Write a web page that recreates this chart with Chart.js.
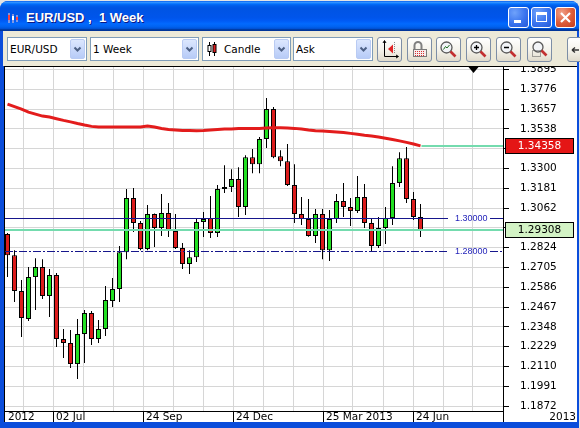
<!DOCTYPE html>
<html>
<head>
<meta charset="utf-8">
<title>EUR/USD, 1 Week</title>
<script src="https://cdn.jsdelivr.net/npm/chart.js@4.4.1/dist/chart.umd.min.js"></script>
<style>
html, body { margin: 0; padding: 0; }
body { width: 580px; height: 428px; overflow: hidden; position: relative; background: #e4e4e4; font-family: "DejaVu Sans", sans-serif; }
#frame { position: absolute; left: 0; top: 1px; width: 579px; height: 427px; background: #0b4ddb; border-radius: 8px 8px 0 0; }
#title { position: absolute; left: 0; top: 1px; width: 579px; height: 30px; border-radius: 8px 8px 0 0;
  background: linear-gradient(to bottom, #0058ee 0%, #3593ff 4%, #288eff 6%, #127dff 8%, #036ffc 10%, #0262ee 14%, #0057e5 20%, #0054e3 24%, #0055eb 56%, #005bf5 66%, #026afe 76%, #0062ef 86%, #0052d6 92%, #0040ab 94%, #003092 100%); }
#title .txt { position: absolute; left: 26px; top: 9px; color: #fff; font: bold 13px "Liberation Sans", sans-serif; text-shadow: 1px 1px 0 #0a1883; white-space: pre; }
#title .ico { position: absolute; left: 7px; top: 11px; }
.wb { position: absolute; top: 6px; width: 21px; height: 21px; box-sizing: border-box; border: 1px solid #fff; border-radius: 3px;
  background: radial-gradient(circle at 30% 25%, #6fa2fb, #3a74ee 55%, #2459d8); }
.wb.cl { background: radial-gradient(circle at 30% 25%, #f0a088, #dd5a36 55%, #c53c1c); }
.wb svg { position: absolute; left: 0; top: 0; }
#toolbar { position: absolute; left: 3px; top: 31px; width: 574px; height: 35px; background: #ece9d8; }
.combo { position: absolute; top: 6px; height: 24px; box-sizing: border-box; border: 1px solid #7f9db9; background: #fff;
  font: 10.5px "DejaVu Sans", sans-serif; line-height: 22px; color: #000; white-space: nowrap; }
.combo span { position: absolute; top: 0; }
.dd { position: absolute; right: 1px; top: 1px; width: 15px; height: 20px; box-sizing: border-box; border: 1px solid #b9cbf3; border-radius: 2px;
  background: linear-gradient(#dce7fe, #b7cbf7); }
.dd svg { position: absolute; left: 0; top: 0; }
.btn { position: absolute; top: 6px; width: 25px; height: 25px; box-sizing: border-box; border: 1px solid #7d8ea6; border-radius: 3px;
  background: linear-gradient(#ffffff, #f4f2ea 55%, #e0dbcc); overflow: hidden; }
.btn svg { position: absolute; left: 0; top: 0; }
#plot { position: absolute; left: 4px; top: 66px; width: 573px; height: 356px; box-sizing: border-box; border-top: 1px solid #000; border-left: 1px solid #000; background: #fff; }
#c { position: absolute; left: 0; top: 0; }
</style>
</head>
<body>
<div id="frame"></div>
<div id="title">
  <svg class="ico" width="12" height="12"><path d="M2 1v10M6 2v9M10 3v7" stroke="#ffd0d0" stroke-width="1"/><rect x="1" y="3" width="2" height="5" fill="#ff4040"/><rect x="5" y="4" width="2" height="4" fill="#fff"/><rect x="9" y="5" width="2" height="3" fill="#ff4040"/></svg>
  <span class="txt">EUR/USD ,  1 Week</span>
  <div class="wb" style="left:508px"><svg width="19" height="19"><rect x="5" y="12" width="7" height="3" fill="#fff"/></svg></div>
  <div class="wb" style="left:531px"><svg width="19" height="19"><rect x="4.5" y="4.5" width="10" height="9" fill="none" stroke="#fff"/><rect x="4" y="4" width="11" height="3" fill="#fff"/></svg></div>
  <div class="wb cl" style="left:555px"><svg width="19" height="19"><path d="M5 5l9 9M14 5l-9 9" stroke="#fff" stroke-width="2.2"/></svg></div>
</div>

<div id="toolbar">
  <div class="combo" style="left:4px;width:80px"><span style="left:2px">EUR/USD</span>
    <div class="dd"><svg width="13" height="18"><path d="M3.5 7.5l3 3 3-3" stroke="#4d6185" stroke-width="2" fill="none"/></svg></div></div>
  <div class="combo" style="left:87px;width:109px"><span style="left:2px">1 Week</span>
    <div class="dd"><svg width="13" height="18"><path d="M3.5 7.5l3 3 3-3" stroke="#4d6185" stroke-width="2" fill="none"/></svg></div></div>
  <div class="combo" style="left:199px;width:89px">
    <svg style="position:absolute;left:4px;top:3px" width="10" height="16"><path d="M2.5 1v14M7.5 1v14" stroke="#000"/><rect x="1" y="4.5" width="3" height="6" fill="#fff" stroke="#000"/><rect x="6" y="3.5" width="3" height="8" fill="#e02020" stroke="#000"/></svg>
    <span style="left:21px">Candle</span>
    <div class="dd"><svg width="13" height="18"><path d="M3.5 7.5l3 3 3-3" stroke="#4d6185" stroke-width="2" fill="none"/></svg></div></div>
  <div class="combo" style="left:290px;width:80px"><span style="left:2px">Ask</span>
    <div class="dd"><svg width="13" height="18"><path d="M3.5 7.5l3 3 3-3" stroke="#4d6185" stroke-width="2" fill="none"/></svg></div></div>

  <div class="btn" style="left:374px"><svg width="23" height="23"><path d="M6.5 3v15.5H20" stroke="#000" fill="none"/><path d="M5 5l1.5-2.5L8 5M18 17l2.5 1.5L18 20" stroke="#000" fill="none"/><path d="M15 6.5v9l-5-4.5z" fill="#e02424"/><path d="M16.5 4v12" stroke="#888" stroke-dasharray="1 1"/></svg></div>
  <div class="btn" style="left:404px"><svg width="23" height="23"><path d="M6.5 11V7.5a3.5 3.5 0 0 1 7 0V11" stroke="#808080" stroke-width="2" fill="none"/><rect x="5.5" y="11.5" width="13" height="7" fill="#f7ecec" stroke="#7a7a7a"/><path d="M7 13.5h10M7 15.5h10M7 17.5h10" stroke="#d43030" stroke-dasharray="1 1"/></svg></div>
  <div class="btn" style="left:433px"><svg width="23" height="23"><circle cx="9.5" cy="9.5" r="5.5" fill="#f2f4f7" stroke="#5a5a5a" stroke-width="1.3"/><path d="M6.5 11.5l2-3 1.5 1.5 2.5-3" stroke="#207020" fill="none"/><path d="M13.5 13.5l5 5" stroke="#c23030" stroke-width="2.6"/></svg></div>
  <div class="btn" style="left:463px"><svg width="23" height="23"><circle cx="9.5" cy="9.5" r="5.5" fill="#f2f4f7" stroke="#5a5a5a" stroke-width="1.3"/><path d="M7 9.5h5M9.5 7v5" stroke="#000" stroke-width="1.3"/><path d="M13.5 13.5l5 5" stroke="#c23030" stroke-width="2.6"/></svg></div>
  <div class="btn" style="left:493px"><svg width="23" height="23"><circle cx="9.5" cy="9.5" r="5.5" fill="#f2f4f7" stroke="#5a5a5a" stroke-width="1.3"/><path d="M7 9.5h5" stroke="#000" stroke-width="1.3"/><path d="M13.5 13.5l5 5" stroke="#c23030" stroke-width="2.6"/></svg></div>
  <div class="btn" style="left:524px"><svg width="23" height="23"><circle cx="10" cy="9" r="5" fill="#f2f4f7" stroke="#5a5a5a" stroke-width="1.3"/><rect x="4.5" y="12.5" width="8" height="6" fill="none" stroke="#555" stroke-dasharray="1 1"/><path d="M13.5 12.5l5 5" stroke="#c23030" stroke-width="2.6"/></svg></div>
  <div class="btn" style="left:564px"><svg width="23" height="23"><path d="M4 12h7M4 12l3-2.5M4 12l3 2.5" stroke="#333" stroke-width="1.4" fill="none"/></svg></div>
</div>

<div id="plot"><canvas id="c" width="572" height="355"></canvas></div>

<script>
const openP = [1.2906, 1.2779, 1.2563, 1.2395, 1.2647, 1.2707, 1.2533, 1.2659, 1.2275, 1.2251,
  1.2124, 1.2305, 1.2431, 1.2275, 1.2335, 1.2503, 1.2575, 1.2797, 1.3122, 1.2972,
  1.2816, 1.3026, 1.2942, 1.3032, 1.2924, 1.2822, 1.2725, 1.2767, 1.2978, 1.3002,
  1.2912, 1.3176, 1.3188, 1.3236, 1.3068, 1.3368, 1.3326, 1.3477, 1.3657, 1.3374,
  1.3344, 1.3200, 1.3026, 1.2996, 1.2894, 1.3026, 1.2809, 1.2996, 1.3104, 1.3068,
  1.3044, 1.3128, 1.2972, 1.2834, 1.2942, 1.3002, 1.3212, 1.3362, 1.3116, 1.3008];
const highP = [1.2912, 1.2809, 1.2629, 1.2707, 1.2761, 1.2755, 1.2695, 1.2671, 1.2335, 1.2329,
  1.2395, 1.2449, 1.2443, 1.2389, 1.2593, 1.2641, 1.2834, 1.3176, 1.3182, 1.2984,
  1.3080, 1.3030, 1.3146, 1.3092, 1.3026, 1.2852, 1.2809, 1.2996, 1.3038, 1.3134,
  1.3200, 1.3320, 1.3296, 1.3308, 1.3380, 1.3417, 1.3489, 1.3723, 1.3669, 1.3410,
  1.3447, 1.3326, 1.3128, 1.3116, 1.3056, 1.3056, 1.3050, 1.3146, 1.3212, 1.3122,
  1.3254, 1.3206, 1.3002, 1.3008, 1.3068, 1.3314, 1.3398, 1.3429, 1.3158, 1.3086];
const lowP = [1.2647, 1.2497, 1.2287, 1.2383, 1.2449, 1.2515, 1.2407, 1.2227, 1.2160, 1.2100,
  1.2034, 1.2130, 1.2239, 1.2251, 1.2293, 1.2467, 1.2497, 1.2755, 1.2918, 1.2809,
  1.2809, 1.2828, 1.2894, 1.2888, 1.2816, 1.2695, 1.2665, 1.2737, 1.2888, 1.2882,
  1.2888, 1.3152, 1.3158, 1.3008, 1.3020, 1.3272, 1.3272, 1.3423, 1.3362, 1.3314,
  1.3195, 1.2972, 1.2960, 1.2890, 1.2852, 1.2755, 1.2743, 1.2972, 1.3008, 1.2954,
  1.3032, 1.2942, 1.2803, 1.2822, 1.2846, 1.2960, 1.3188, 1.3092, 1.2990, 1.2888];
const closeP = [1.2779, 1.2563, 1.2401, 1.2647, 1.2707, 1.2533, 1.2659, 1.2275, 1.2251, 1.2124,
  1.2305, 1.2431, 1.2275, 1.2335, 1.2509, 1.2575, 1.2797, 1.3122, 1.2972, 1.2816,
  1.3026, 1.2942, 1.3032, 1.2930, 1.2822, 1.2725, 1.2767, 1.2978, 1.2996, 1.2912,
  1.3176, 1.3188, 1.3236, 1.3068, 1.3368, 1.3326, 1.3477, 1.3657, 1.3368, 1.3344,
  1.3200, 1.3026, 1.2996, 1.2894, 1.3026, 1.2809, 1.2996, 1.3104, 1.3068, 1.3044,
  1.3128, 1.2972, 1.2834, 1.2942, 1.3002, 1.3212, 1.3362, 1.3116, 1.3008, 1.29308];
// red moving average
const maLine = [1.3687, 1.3672, 1.3657, 1.3639, 1.3627, 1.3615, 1.3609, 1.3599, 1.3589, 1.3580,
  1.3570, 1.3561, 1.3553, 1.3549, 1.3549, 1.3549, 1.3549, 1.3549, 1.3549, 1.3549,
  1.3555, 1.3549, 1.3540, 1.3534, 1.3531, 1.3528, 1.3528, 1.3527, 1.3528, 1.3531,
  1.3534, 1.3537, 1.3537, 1.3540, 1.3540, 1.3541, 1.3541, 1.3543, 1.3545, 1.3545,
  1.3543, 1.3541, 1.3537, 1.3531, 1.3527, 1.3525, 1.3522, 1.3519, 1.3516, 1.3511,
  1.3506, 1.3500, 1.3495, 1.3489, 1.3482, 1.3474, 1.3466, 1.3457, 1.3447, 1.34358];

// price axis ticks
const yTicks = [1.1872, 1.1991, 1.2110, 1.2229, 1.2348, 1.2467, 1.2586, 1.2705, 1.2824,
  1.2943, 1.3062, 1.3181, 1.3300, 1.3419, 1.3538, 1.3657, 1.3776, 1.3895];
// date axis: labels sit on every third vertical grid line
const xTickSlots = [1, 4, 7, 10, 13];
const xTickLabels = ['02 Jul', '24 Sep', '24 Dec', '25 Mar 2013', '24 Jun'];
const firstLabel = '2012';
const cornerLabel = '2013';
// horizontal level lines drawn on the chart
const levels = [1.30000, 1.28000];

// --- scale setup ---
const yMin = 1.1842, yMax = 1.3910;
const weekPx = 7;                      // candle pitch
const xMin = -2.5 / weekPx;
const xMax = xMin + 498 / weekPx;
const gridFirst = xMin + 18 / weekPx;  // vertical grid every 30px
const gridStep = 30 / weekPx;
const gridSlots = 16;

const BULL = '#22df22', BEAR = '#dc1c1c', MA_RED = '#e31c1c', MINT = '#74dbae';
const axisFont = { family: 'DejaVu Sans', size: 10.5 };
const last = closeP.length - 1;

const bodies = openP.map((o, i) => ({ x: i, y: [o, closeP[i]] }));
const wicks = lowP.map((l, i) => ({ x: i, y: [l, highP[i]] }));
const maPts = maLine.map((v, i) => ({ x: i, y: v }));

const overlay = {
    id: 'overlay',
    afterDatasetsDraw(chart) {
        const { ctx, chartArea: a, scales: { x, y } } = chart;
        ctx.save();
        ctx.beginPath();
        ctx.rect(a.left, a.top, a.right - a.left, a.bottom - a.top);
        ctx.clip();

        // level lines + small labels
        ctx.font = '9px "Liberation Sans"';
        ctx.textBaseline = 'middle';
        ctx.textAlign = 'left';
        levels.forEach((lv, i) => {
            const py = Math.floor(y.getPixelForValue(lv)) + 0.5;
            ctx.strokeStyle = '#16168c';
            ctx.lineWidth = 1;
            ctx.setLineDash(i === 0 ? [] : [8, 2, 2, 2]);
            ctx.beginPath();
            ctx.moveTo(a.left, py); ctx.lineTo(a.right - 55, py);
            ctx.moveTo(a.right - 13, py); ctx.lineTo(a.right, py);
            ctx.stroke();
            ctx.fillStyle = '#1e1eb8';
            ctx.fillText(lv.toFixed(5), a.right - 48, py + 0.5);
        });
        ctx.setLineDash([]);

        // current price line, and the marker from the end of the average
        ctx.strokeStyle = MINT;
        ctx.lineWidth = 2;
        const pc = Math.round(y.getPixelForValue(closeP[last]));
        ctx.beginPath(); ctx.moveTo(a.left, pc); ctx.lineTo(a.right, pc); ctx.stroke();
        const pm = Math.round(y.getPixelForValue(maLine[last]));
        ctx.beginPath(); ctx.moveTo(x.getPixelForValue(last) + 1, pm); ctx.lineTo(a.right, pm); ctx.stroke();
        ctx.restore();
    },
    afterDraw(chart) {
        const { ctx, chartArea: a, scales: { x, y }, width, height } = chart;
        ctx.save();
        // price axis line runs down through the date row
        ctx.strokeStyle = '#000';
        ctx.lineWidth = 1;
        ctx.beginPath(); ctx.moveTo(a.right + 0.5, a.bottom); ctx.lineTo(a.right + 0.5, height); ctx.stroke();

        // value tags on the price axis
        const tag = (v, fill, textColor) => {
            const py = Math.round(y.getPixelForValue(v));
            ctx.fillStyle = fill;
            ctx.fillRect(a.right + 2, py - 8, 69, 16);
            ctx.strokeStyle = '#000';
            ctx.strokeRect(a.right + 2.5, py - 7.5, 68, 15);
            ctx.fillStyle = textColor;
            ctx.font = '10.5px "DejaVu Sans"';
            ctx.textAlign = 'center';
            ctx.textBaseline = 'middle';
            ctx.fillText(v.toFixed(5), a.right + 36.5, py + 0.5);
        };
        tag(maLine[last], '#e41616', '#fff');
        tag(closeP[last], '#d3f3c5', '#000');

        // chart shift marker at the top
        const tx = Math.round(x.getPixelForValue(gridFirst + 15 * gridStep)) + 0.5;
        ctx.fillStyle = '#000';
        ctx.beginPath();
        ctx.moveTo(tx - 5, a.top); ctx.lineTo(tx + 5, a.top); ctx.lineTo(tx, a.top + 6);
        ctx.closePath(); ctx.fill();

        // year in the bottom right corner
        ctx.font = '10.5px "DejaVu Sans"';
        ctx.textAlign = 'right';
        ctx.textBaseline = 'middle';
        ctx.fillText(cornerLabel, width - 1, a.bottom + 6.5);
        ctx.restore();
    }
};

new Chart(document.getElementById('c'), {
    type: 'bar',
    data: {
        datasets: [
            { type: 'line', data: maPts, borderColor: MA_RED, borderWidth: 3, pointRadius: 0, tension: 0, order: 0 },
            { type: 'bar', data: bodies, backgroundColor: openP.map((o, i) => closeP[i] >= o ? BULL : BEAR),
              borderColor: '#000', borderWidth: 1, borderSkipped: false, barThickness: 5, grouped: false, inflateAmount: 0, order: 1 },
            { type: 'bar', data: wicks, backgroundColor: '#000', borderWidth: 0, barThickness: 1, grouped: false, inflateAmount: 0, order: 2 }
        ]
    },
    options: {
        responsive: false,
        animation: false,
        devicePixelRatio: 1,
        events: [],
        layout: { padding: 0, autoPadding: false },
        plugins: { legend: { display: false }, tooltip: { enabled: false } },
        scales: {
            x: {
                type: 'linear', min: xMin, max: xMax, offset: false,
                afterBuildTicks: s => {
                    const t = [{ value: xMin }];
                    for (let k = 0; k < gridSlots; k++) t.push({ value: gridFirst + k * gridStep });
                    s.ticks = t;
                },
                afterFit: s => { s.height = 11; s.paddingLeft = 0; s.paddingRight = 0; s.paddingTop = 0; s.paddingBottom = 0; },
                ticks: {
                    autoSkip: false, maxRotation: 0, minRotation: 0, align: 'start', labelOffset: 3, padding: -11,
                    font: axisFont, color: '#000',
                    callback: (v, i) => i === 0 ? firstLabel : (xTickLabels[xTickSlots.indexOf(i - 1)] || '')
                },
                grid: {
                    offset: false, lineWidth: 1, tickLength: 11,
                    color: c => c.index === 0 ? 'rgba(0,0,0,0)' : '#d6d6d6',
                    tickColor: c => (c.index > 0 && xTickSlots.includes(c.index - 1)) ? '#000' : 'rgba(0,0,0,0)'
                },
                border: { display: true, color: '#000', width: 1 }
            },
            y: {
                position: 'right', min: yMin, max: yMax,
                afterBuildTicks: s => { s.ticks = yTicks.map(v => ({ value: v })); },
                afterFit: s => { s.width = 74; s.paddingLeft = 0; s.paddingRight = 0; s.paddingTop = 0; s.paddingBottom = 0; },
                ticks: { autoSkip: false, padding: 11, crossAlign: 'near', font: axisFont, color: '#000', callback: v => v.toFixed(4) },
                grid: { color: '#d6d6d6', lineWidth: 1, tickColor: '#000', tickLength: 6 },
                border: { display: true, color: '#000', width: 1 }
            }
        }
    },
    plugins: [overlay]
});
</script>
</body>
</html>
